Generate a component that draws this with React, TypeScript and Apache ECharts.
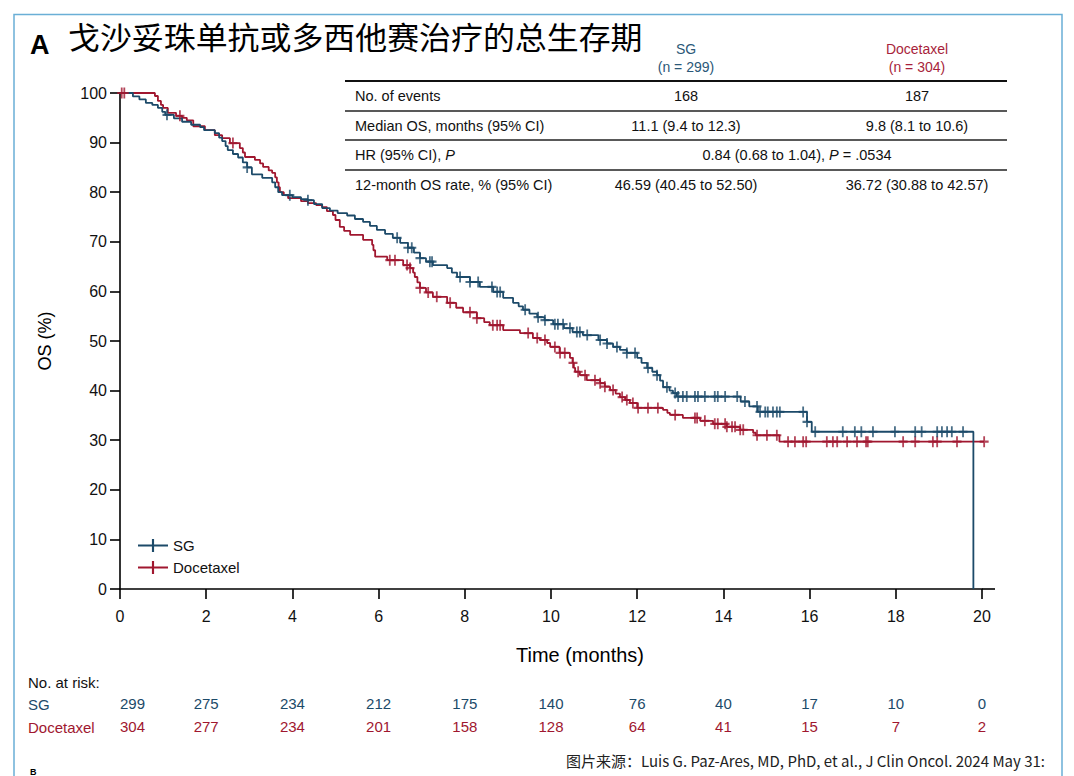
import React, { useEffect, useRef } from "react";
import * as echarts from "echarts";

// Kaplan-Meier steps [month, OS %]
const sgSteps: [number, number][] = [
  [0, 100], [0.3, 99.3], [0.45, 98.7], [0.6, 98.0], [0.75, 97.6], [0.88, 97.0], [0.98, 96.2], [1.05, 95.6],
  [1.25, 94.9], [1.44, 94.2], [1.65, 93.6], [1.86, 93.1], [1.95, 92.5], [2.2, 91.9], [2.3, 91.0], [2.37, 90.3],
  [2.45, 89.3], [2.5, 88.5], [2.62, 87.7], [2.74, 87.0], [2.85, 86.0], [2.95, 85.0], [3.06, 83.6], [3.3, 82.9],
  [3.53, 82.0], [3.6, 81.0], [3.67, 80.0], [3.76, 79.4], [4.0, 79.0], [4.2, 78.6], [4.36, 78.4], [4.5, 77.6],
  [4.69, 76.8], [4.87, 76.3], [5.05, 75.8], [5.27, 75.3], [5.45, 74.6], [5.64, 74.0], [5.8, 73.2], [5.96, 72.4],
  [6.15, 71.6], [6.33, 70.8], [6.5, 69.8], [6.68, 68.8], [6.82, 67.8], [6.96, 66.7], [7.1, 66.0], [7.26, 65.3],
  [7.59, 64.7], [7.7, 63.8], [7.82, 62.9], [8.12, 61.9], [8.35, 60.9], [8.66, 59.9], [8.89, 58.7], [9.12, 57.7],
  [9.25, 57.0], [9.35, 56.3], [9.5, 55.5], [9.68, 54.8], [9.85, 54.2], [10.05, 53.4], [10.3, 52.6], [10.5, 51.8],
  [10.74, 51.2], [11.1, 50.2], [11.3, 49.5], [11.44, 48.8], [11.6, 48.2], [11.76, 47.6], [12.0, 46.6], [12.1, 45.6],
  [12.23, 44.6], [12.35, 43.8], [12.46, 43.1], [12.53, 42.0], [12.6, 40.7], [12.75, 40.0], [12.83, 39.5], [12.92, 38.8],
  [14.4, 37.8], [14.6, 36.8], [14.8, 35.7], [15.94, 33.7], [16.05, 31.7], [19.8, 0],
];

const docSteps: [number, number][] = [
  [0, 100], [0.81, 99.4], [0.88, 98.4], [0.95, 97.6], [1.0, 97.0], [1.11, 96.0], [1.3, 95.4], [1.44, 95.0],
  [1.55, 94.5], [1.7, 93.3], [1.97, 92.5], [2.2, 91.5], [2.37, 90.9], [2.55, 89.9], [2.78, 88.9], [2.85, 88.0],
  [2.9, 87.1], [3.13, 86.5], [3.25, 85.8], [3.32, 85.1], [3.45, 84.4], [3.53, 83.9], [3.6, 83.0], [3.64, 82.0],
  [3.68, 81.0], [3.71, 80.0], [3.8, 79.4], [3.9, 78.8], [4.2, 78.2], [4.36, 77.8], [4.55, 77.4], [4.69, 77.0],
  [4.8, 76.2], [4.94, 75.4], [5.0, 74.4], [5.1, 73.0], [5.2, 72.2], [5.34, 71.4], [5.64, 70.4], [5.85, 69.4],
  [5.88, 68.3], [5.92, 67.0], [6.2, 66.3], [6.57, 65.3], [6.73, 64.7], [6.8, 63.8], [6.84, 62.9], [6.9, 61.8],
  [6.96, 60.7], [7.1, 59.8], [7.26, 58.9], [7.59, 57.7], [7.8, 56.7], [7.96, 55.8], [8.28, 54.6], [8.45, 53.8],
  [8.58, 53.2], [8.89, 52.2], [9.28, 51.6], [9.58, 50.6], [9.74, 50.2], [9.91, 49.6], [9.98, 48.8], [10.2, 47.6],
  [10.44, 46.6], [10.5, 45.6], [10.53, 44.6], [10.56, 43.8], [10.67, 43.1], [10.83, 42.1], [11.14, 41.5], [11.25, 40.8],
  [11.37, 40.1], [11.5, 39.4], [11.6, 38.7], [11.72, 38.1], [11.83, 37.5], [12.0, 36.5], [12.6, 36.1], [12.7, 35.5],
  [12.76, 35.1], [13.06, 34.5], [13.46, 33.9], [13.76, 33.3], [14.08, 32.7], [14.39, 32.1], [14.69, 31.5], [14.75, 31.0],
  [15.3, 29.7], [20.15, 29.7],
];

// Censoring times (months)
const sgCensor = [
  1.09, 2.95, 3.94, 4.36, 6.43, 6.68, 6.77, 6.96, 7.19, 7.24, 7.89, 8.12, 8.31, 8.63, 8.75, 8.82, 9.4, 9.7, 9.86,
  10.09, 10.16, 10.28, 10.44, 10.6, 10.67, 10.84, 11.14, 11.3, 11.53, 11.76, 11.95, 12.25, 12.46, 12.69, 12.88,
  12.95, 13.06, 13.15, 13.34, 13.41, 13.57, 13.8, 13.87, 14.04, 14.32, 14.5, 14.78, 14.85, 14.97, 15.03, 15.15,
  15.24, 15.31, 15.85, 15.94, 16.13, 16.77, 17.05, 17.2, 17.47, 17.98, 18.45, 18.6, 18.96, 19.07, 19.19, 19.3, 19.56,
];
const docCensor = [
  0.04, 0.1, 1.39, 2.62, 6.26, 6.38, 6.66, 6.73, 6.96, 7.15, 7.35, 7.66, 8.12, 8.28, 8.65, 8.75, 8.82, 9.47, 9.68,
  9.86, 10.09, 10.21, 10.32, 10.51, 10.63, 10.79, 11.02, 11.14, 11.25, 11.44, 11.65, 11.76, 11.9, 12.02, 12.25,
  12.48, 12.88, 13.34, 13.39, 13.57, 13.8, 13.87, 14.04, 14.08, 14.2, 14.27, 14.39, 14.46, 14.78, 15.01, 15.24,
  15.5, 15.66, 15.85, 15.92, 16.4, 16.54, 16.64, 16.87, 17.1, 17.31, 17.35, 18.17, 18.45, 18.86, 18.96, 19.42, 20.05,
];

// Number at risk
const riskTimes = [0, 2, 4, 6, 8, 10, 12, 14, 16, 18, 20];
const riskSG = [299, 275, 234, 212, 175, 140, 76, 40, 17, 10, 0];
const riskDoc = [304, 277, 234, 201, 158, 128, 64, 41, 15, 7, 2];

// Summary table
const groupNames = ["SG", "Docetaxel"];
const groupN = ["(n = 299)", "(n = 304)"];
const tableLabels = ["No. of events", "Median OS, months (95% CI)", "HR (95% CI), {i|P}", "12-month OS rate, % (95% CI)"];
const tableSG = ["168", "11.1 (9.4 to 12.3)", "", "46.59 (40.45 to 52.50)"];
const tableDoc = ["187", "9.8 (8.1 to 10.6)", "", "36.72 (30.88 to 42.57)"];
const hrText = "0.84 (0.68 to 1.04), {i|P} = .0534";

const BLUE = "#1c4a69";
const RED = "#a0172f";
const FONT = "'Liberation Sans', Arial, Helvetica, sans-serif";

function stepAt(steps: [number, number][], t: number) {
  let v = steps[0][1];
  for (const [x, y] of steps) {
    if (x <= t) v = y;
    else break;
  }
  return v;
}

const plusPath = "path://M4,0 L6,0 L6,4 L10,4 L10,6 L6,6 L6,10 L4,10 L4,6 L0,6 L0,4 L4,4 Z";
const legendIcon = "path://M0,5 L13,5 L13,0 L15,0 L15,5 L28,5 L28,7 L15,7 L15,12 L13,12 L13,7 L0,7 Z";

function txt(text: string, x: number, y: number, o: any = {}) {
  const { align = "left", vAlign = "middle", size = 14, color = "#111", weight = "normal", family = FONT, scaleX = 1, rotation = 0, rich } = o;
  return {
    type: "text",
    x,
    y,
    scaleX,
    rotation,
    z: 10,
    style: {
      text,
      fill: color,
      fontSize: size,
      fontFamily: family,
      fontWeight: weight,
      align,
      verticalAlign: vAlign,
      textAlign: align,
      textVerticalAlign: vAlign,
      rich,
    },
  };
}

export default function App() {
  const ref = useRef<HTMLDivElement>(null);
  useEffect(() => {
    if (!ref.current) return;
    const chart = echarts.init(ref.current, null, { renderer: "svg" });

    const lineStyle = { stroke: "#222", lineWidth: 1.4 };
    const tableLeft = 345;
    const tableRight = 1007;
    const rowY = [96, 126, 155, 185];
    const ruleY = [111, 140, 170];
    const colX = [686, 917];
    const italic = { i: { fontStyle: "italic", fontSize: 14.5, fontFamily: FONT, fill: "#111" } };

    const graphic: any[] = [
      { type: "rect", shape: { x: 14, y: 14.5, width: 1048, height: 820 }, style: { fill: "none", stroke: "#6aafd6", lineWidth: 1.5 } },
      txt("A", 30, 45, { size: 27, weight: "bold", color: "#000" }),
      txt("戈沙妥珠单抗或多西他赛治疗的总生存期", 68, 36, { size: 31, family: "'Noto Sans CJK SC', sans-serif", scaleX: 1.03, color: "#000" }),
      { type: "line", shape: { x1: tableLeft, y1: 81, x2: tableRight, y2: 81 }, style: { stroke: "#111", lineWidth: 2 } },
      ...ruleY.map((y) => ({ type: "line", shape: { x1: tableLeft, y1: y, x2: tableRight, y2: y }, style: lineStyle })),
      ...groupNames.map((g, i) => txt(g, colX[i], 49, { align: "center", size: 14, color: i === 0 ? "#2b5878" : "#a81f3b" })),
      ...groupN.map((g, i) => txt(g, colX[i], 67, { align: "center", size: 14, color: i === 0 ? "#2b5878" : "#a81f3b" })),
      ...tableLabels.map((l, i) => txt(l, 355, rowY[i], { size: 14.5, rich: italic })),
      ...tableSG.map((v, i) => txt(v, colX[0], rowY[i], { align: "center", size: 14.5 })),
      ...tableDoc.map((v, i) => txt(v, colX[1], rowY[i], { align: "center", size: 14.5 })),
      txt(hrText, 797, rowY[2], { align: "center", size: 14.5, rich: italic }),
      { type: "line", shape: { x1: 982, y1: 589, x2: 995, y2: 589 }, style: { stroke: "#000", lineWidth: 1.6 } },
      txt("OS (%)", 45, 341, { align: "center", size: 18, rotation: Math.PI / 2, color: "#000" }),
      txt("Time (months)", 580, 654, { align: "center", size: 21, scaleX: 0.95, color: "#000" }),
      txt("No. at risk:", 28, 682, { size: 15 }),
      txt("SG", 28, 704, { size: 15, color: BLUE }),
      txt("Docetaxel", 28, 727, { size: 15, color: RED }),
      txt("图片来源：Luis G. Paz-Ares, MD, PhD, et al., J Clin Oncol. 2024 May 31:", 1045, 760, { align: "right", size: 15, color: "#222", family: "'Noto Sans CJK SC', " + FONT }),
      txt("B", 30, 767, { vAlign: "top", size: 9, weight: "bold", color: "#000" }),
    ];

    const riskData = (vals: number[], name: string) =>
      vals.map((v, i) => ({
        value: [riskTimes[i], name, v],
        label: i === 0 ? { align: "left" } : undefined,
      }));

    const riskLabel = (color: string) => ({
      show: true,
      position: "inside",
      formatter: (p: any) => String(p.value[2]),
      color,
      fontSize: 15,
      fontFamily: FONT,
      textBorderWidth: 0,
      opacity: 1,
    });

    const option: any = {
      animation: false,
      backgroundColor: "#fff",
      grid: [
        { left: 120, top: 93, width: 862, height: 496, outerBoundsMode: "none", containLabel: false },
        { left: 120, top: 692, width: 862, height: 46, outerBoundsMode: "none", containLabel: false },
      ],
      legend: {
        data: ["SG", "Docetaxel"],
        left: 133,
        top: 533,
        orient: "vertical",
        icon: legendIcon,
        itemWidth: 30,
        itemHeight: 13,
        itemGap: 7,
        textStyle: { fontSize: 15, fontFamily: FONT, color: "#111" },
        selectedMode: false,
      },
      xAxis: [
        {
          type: "value",
          gridIndex: 0,
          min: 0,
          max: 20,
          interval: 2,
          axisLine: { show: true, lineStyle: { color: "#000", width: 1.6 } },
          axisTick: { show: true, length: 10, lineStyle: { color: "#000", width: 1.6 } },
          axisLabel: { fontSize: 16, color: "#111", margin: 19, fontFamily: FONT },
          splitLine: { show: false },
        },
        { type: "value", gridIndex: 1, min: 0, max: 20, show: false },
      ],
      yAxis: [
        {
          type: "value",
          gridIndex: 0,
          min: 0,
          max: 100,
          interval: 10,
          axisLine: { show: true, lineStyle: { color: "#000", width: 1.6 } },
          axisTick: { show: true, length: 10, lineStyle: { color: "#000", width: 1.6 } },
          axisLabel: { fontSize: 16, color: "#111", margin: 13, fontFamily: FONT },
          splitLine: { show: false },
        },
        { type: "category", gridIndex: 1, data: ["SG", "Docetaxel"], inverse: true, show: false },
      ],
      series: [
        {
          name: "SG",
          type: "line",
          step: "end",
          data: sgSteps,
          showSymbol: false,
          symbol: "none",
          color: BLUE,
          lineStyle: { color: BLUE, width: 1.8 },
          clip: false,
          z: 3,
        },
        {
          name: "Docetaxel",
          type: "line",
          step: "end",
          data: docSteps,
          showSymbol: false,
          symbol: "none",
          color: RED,
          lineStyle: { color: RED, width: 1.8 },
          clip: false,
          z: 2,
        },
        {
          name: "SG censored",
          type: "scatter",
          data: sgCensor.map((t) => [t, stepAt(sgSteps, t)]),
          symbol: plusPath,
          symbolSize: [9, 11],
          itemStyle: { color: BLUE },
          clip: false,
          z: 5,
        },
        {
          name: "Docetaxel censored",
          type: "scatter",
          data: docCensor.map((t) => [t, stepAt(docSteps, t)]),
          symbol: plusPath,
          symbolSize: [9, 11],
          itemStyle: { color: RED },
          clip: false,
          z: 4,
        },
        {
          name: "SG at risk",
          type: "scatter",
          xAxisIndex: 1,
          yAxisIndex: 1,
          data: riskData(riskSG, "SG"),
          symbolSize: 1,
          itemStyle: { color: "rgba(0,0,0,0)", opacity: 0 },
          label: riskLabel(BLUE),
          silent: true,
        },
        {
          name: "Docetaxel at risk",
          type: "scatter",
          xAxisIndex: 1,
          yAxisIndex: 1,
          data: riskData(riskDoc, "Docetaxel"),
          symbolSize: 1,
          itemStyle: { color: "rgba(0,0,0,0)", opacity: 0 },
          label: riskLabel(RED),
          silent: true,
        },
      ],
      graphic,
    };
    chart.setOption(option);
    return () => chart.dispose();
  }, []);

  return <div ref={ref} style={{ position: "fixed", left: 0, top: 0, width: 1074, height: 776, background: "#fff" }} />;
}
